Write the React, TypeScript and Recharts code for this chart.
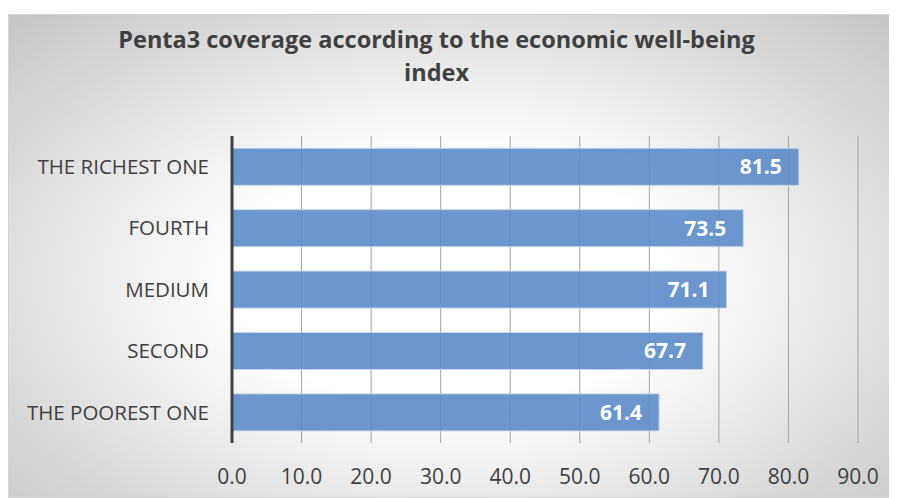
import { BarChart, Bar, XAxis, YAxis, CartesianGrid, LabelList } from "recharts";

const CATEGORIES = ["THE RICHEST ONE", "FOURTH", "MEDIUM", "SECOND", "THE POOREST ONE"];
const COVERAGE = [81.5, 73.5, 71.1, 67.7, 61.4];
const X_TICKS = [0, 10, 20, 30, 40, 50, 60, 70, 80, 90];

const data = CATEGORIES.map((name, i) => ({ name, value: COVERAGE[i] }));

const FONT = "'Open Sans', Lato, sans-serif";

export default function App() {
  return (
    <div
      style={{
        position: "relative",
        marginTop: 6,
        width: 887,
        height: 484,
        border: "1px solid #d4d4d4",
        boxSizing: "border-box",
        background: "radial-gradient(ellipse 70% 75% at 50% 55%, #ffffff 35%, #c6c6c6 100%)",
        fontFamily: FONT,
      }}
    >
      {/* titre */}
      <div
        style={{
          position: "absolute",
          left: 0,
          top: 8,
          width: 855,
          textAlign: "center",
          fontWeight: 700,
          fontSize: 23.5,
          lineHeight: "33px",
          color: "#404040",
        }}
      >
        Penta3 coverage according to the economic well-being
        <br />
        index
      </div>
      <BarChart
        width={887}
        height={484}
        data={data}
        layout="vertical"
        barCategoryGap="20%"
        margin={{ top: 122, right: 37, left: 0, bottom: 0 }}
        style={{ position: "absolute", left: -1, top: -1 }}
      >
        <CartesianGrid horizontal={false} stroke="#a3a3a3" strokeWidth={1} />
        <XAxis
          type="number"
          domain={[0, 90]}
          ticks={X_TICKS}
          tickFormatter={(v: number) => v.toFixed(1)}
          axisLine={false}
          tickLine={false}
          tickSize={0}
          tickMargin={26}
          height={55}
          tick={{ fontSize: 21, fill: "#404040", fontFamily: FONT }}
        />
        <YAxis
          type="category"
          dataKey="name"
          width={224}
          axisLine={{ stroke: "#404040", strokeWidth: 3 }}
          tickLine={false}
          tickSize={0}
          tickMargin={23}
          tick={{ fontSize: 20.5, fill: "#404040", fontFamily: FONT }}
        />
        <Bar
          dataKey="value"
          fill="#5b8bc9"
          fillOpacity={0.9}
          stroke="#c3d4ea"
          strokeWidth={1}
          isAnimationActive={false}
        >
          <LabelList
            dataKey="value"
            position="insideRight"
            offset={17}
            formatter={(v: number) => v.toFixed(1)}
            style={{ fill: "#ffffff", fontWeight: 700, fontSize: 21, fontFamily: FONT }}
          />
        </Bar>
      </BarChart>
    </div>
  );
}
